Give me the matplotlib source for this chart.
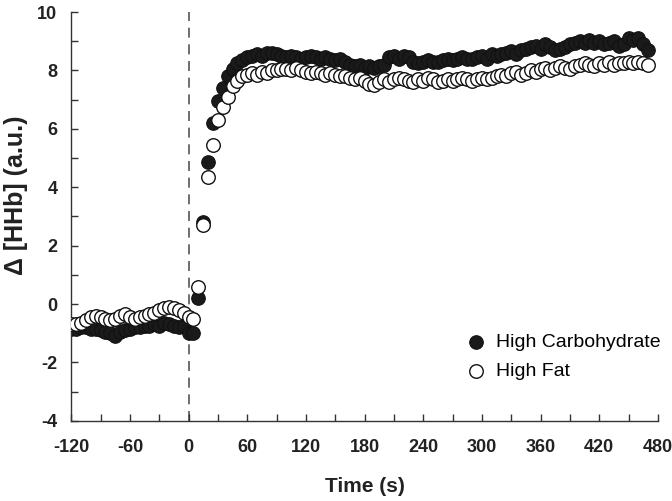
import numpy as np
import matplotlib
matplotlib.use('Agg')
import matplotlib.pyplot as plt
from matplotlib.ticker import MultipleLocator

# время, с (шаг 5 с, от -120 до 470)
time = np.arange(-120, 471, 5)

# до начала нагрузки (-120 ... -5)
hc_pre = [-0.85, -0.85, -0.8, -0.8, -0.85, -0.85, -0.9, -0.95, -1.0, -1.1,
          -0.95, -0.9, -0.85, -0.8, -0.8, -0.75, -0.75, -0.7, -0.75, -0.65,
          -0.7, -0.75, -0.8, -0.75]
hf_pre = [-0.7, -0.7, -0.65, -0.55, -0.45, -0.4, -0.45, -0.5, -0.55, -0.5,
          -0.4, -0.35, -0.45, -0.5, -0.45, -0.4, -0.35, -0.3, -0.2, -0.15,
          -0.1, -0.15, -0.2, -0.3]

# после начала нагрузки (0 ... 470)
hc_post = [-1.0, -1.0, 0.2, 2.8, 4.85, 6.2, 6.95, 7.4, 7.8, 8.05,
           8.25, 8.35, 8.45, 8.5, 8.55, 8.5, 8.6, 8.6, 8.55, 8.5,
           8.45, 8.5, 8.45, 8.4, 8.45, 8.5, 8.45, 8.4, 8.45, 8.4,
           8.35, 8.4, 8.3, 8.2, 8.15, 8.2, 8.1, 8.15, 8.1, 8.15,
           8.2, 8.45, 8.5, 8.4, 8.5, 8.45, 8.3, 8.25, 8.3, 8.35,
           8.3, 8.3, 8.35, 8.4, 8.35, 8.4, 8.45, 8.4, 8.4, 8.45,
           8.5, 8.4, 8.55, 8.5, 8.55, 8.6, 8.65, 8.55, 8.7, 8.75,
           8.8, 8.85, 8.75, 8.9, 8.8, 8.7, 8.75, 8.8, 8.9, 8.95,
           9.0, 8.95, 9.05, 8.95, 9.0, 8.9, 8.95, 9.0, 8.85, 8.9,
           9.1, 9.05, 9.1, 8.9, 8.7]
hf_post = [-0.45, -0.5, 0.58, 2.7, 4.35, 5.45, 6.3, 6.75, 7.1, 7.45,
           7.65, 7.8, 7.85, 7.9, 7.85, 7.95, 7.9, 8.0, 8.0, 8.05,
           8.05, 8.0, 8.1, 8.0, 7.95, 7.9, 7.95, 7.9, 7.85, 7.9,
           7.85, 7.8, 7.8, 7.75, 7.7, 7.75, 7.65, 7.55, 7.5, 7.6,
           7.7, 7.6, 7.7, 7.75, 7.7, 7.65, 7.6, 7.7, 7.65, 7.75,
           7.7, 7.6, 7.65, 7.7, 7.65, 7.7, 7.75, 7.7, 7.65, 7.7,
           7.75, 7.7, 7.75, 7.8, 7.85, 7.8, 7.9, 7.95, 7.85, 7.9,
           8.0, 7.95, 8.05, 8.1, 8.0, 8.1, 8.15, 8.1, 8.05, 8.15,
           8.2, 8.25, 8.2, 8.15, 8.25, 8.2, 8.3, 8.2, 8.25, 8.25,
           8.3, 8.25, 8.3, 8.25, 8.2]

hc = np.array(hc_pre + hc_post)
hf = np.array(hf_pre + hf_post)

plt.rcParams['font.family'] = ['Liberation Sans', 'DejaVu Sans']
plt.rcParams['axes.unicode_minus'] = False

fig = plt.figure(figsize=(6.72, 5.01), dpi=100)
ax = fig.add_axes([0.106, 0.160, 0.873, 0.816])

ax.axvline(0, color='#555555', lw=1.2, ls=(0, (6, 4)), zorder=1)
ax.scatter(time, hc, s=95, c='#1a1a1a', edgecolors='#111111', linewidths=0.8,
           label='High Carbohydrate', zorder=2)
ax.scatter(time, hf, s=95, c='white', edgecolors='#111111', linewidths=1.0,
           label='High Fat', zorder=3)

ax.set_xlim(-120, 480)
ax.set_ylim(-4, 10)
ax.xaxis.set_major_locator(MultipleLocator(60))
ax.xaxis.set_minor_locator(MultipleLocator(30))
ax.yaxis.set_major_locator(MultipleLocator(2))
ax.yaxis.set_minor_locator(MultipleLocator(1))

for s in ['top', 'right']:
    ax.spines[s].set_visible(False)
for s in ['left', 'bottom']:
    ax.spines[s].set_color('#333333')
    ax.spines[s].set_linewidth(1.0)

ax.tick_params(which='both', direction='in', length=5, width=1.0, color='#333333')
ax.tick_params(axis='y', which='major', pad=10)
ax.tick_params(axis='x', which='major', pad=13)
for lab in ax.get_xticklabels() + ax.get_yticklabels():
    lab.set_fontweight('bold')
    lab.set_fontsize(13)
    lab.set_color('#222222')

ax.set_xlabel('Time (s)', fontsize=15, fontweight='bold', color='#222222', labelpad=15)
ax.set_ylabel('Δ [HHb] (a.u.)', fontsize=18, fontweight='bold', color='#222222')
ax.yaxis.set_label_coords(-0.074, 0.553)

ax.legend(loc='upper left', bbox_to_anchor=(466 / 672, 1 - 333 / 501),
          bbox_transform=fig.transFigure, frameon=False, fontsize=14,
          handlelength=1.0, handletextpad=0.55, borderpad=0, labelspacing=0.62,
          borderaxespad=0)

fig.savefig('out.png', dpi=100)
